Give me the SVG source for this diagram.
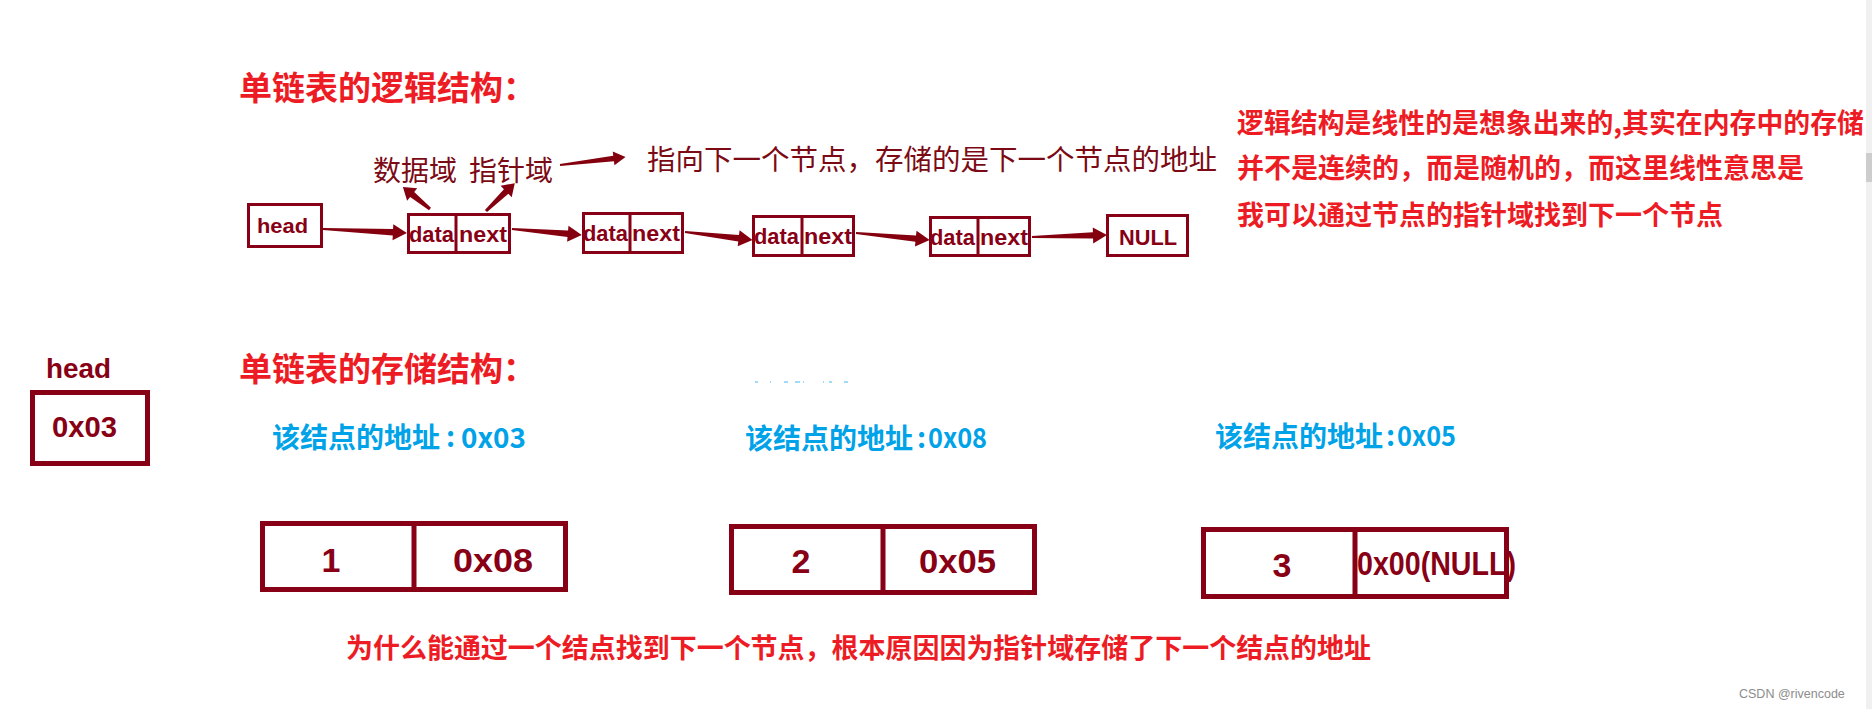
<svg xmlns="http://www.w3.org/2000/svg" width="1872" height="709" viewBox="0 0 1872 709">
<style>
.red{font-family:"Noto Sans CJK SC","Liberation Sans",sans-serif;font-weight:bold;fill:#ed1c24}
.blue{font-family:"Noto Sans CJK SC","Liberation Sans",sans-serif;font-weight:bold;fill:#00a2e8}
.lbl{font-family:"Noto Sans CJK SC","Liberation Sans",sans-serif;font-weight:normal;fill:#7b0a14}
.lat{font-family:"Liberation Sans",Arial,sans-serif;font-weight:bold;fill:#880015}
.b1{fill:none;stroke:#880015;stroke-width:3}
.b2{fill:none;stroke:#880015;stroke-width:5}
.arr{fill:#84000f}
</style>
<rect x="0" y="0" width="1872" height="709" fill="#ffffff"/>
<rect x="1866" y="0" width="6" height="709" fill="#f0f0f0"/>
<rect x="1866" y="153" width="6" height="29" fill="#cdcdcd"/>

<text class="red" x="239" y="100" font-size="33">单链表的逻辑结构：</text>
<text class="red" x="239" y="381" font-size="33">单链表的存储结构：</text>

<g id="notes">
<text class="red" x="1237" y="133" font-size="27" textLength="627" lengthAdjust="spacingAndGlyphs">逻辑结构是线性的是想象出来的,其实在内存中的存储</text>
<text class="red" x="1237" y="178" font-size="27">并不是连续的，而是随机的，而这里线性意思是</text>
<text class="red" x="1237" y="225" font-size="27">我可以通过节点的指针域找到下一个节点</text>
<text class="red" x="346" y="658" font-size="27" textLength="1025" lengthAdjust="spacingAndGlyphs">为什么能通过一个结点找到下一个节点，根本原因因为指针域存储了下一个结点的地址</text>
</g>

<g id="labels">
<text class="lbl" x="373" y="181" font-size="28">数据域</text>
<text class="lbl" x="469" y="181" font-size="28">指针域</text>
<text class="lbl" x="647" y="170" font-size="28" textLength="570" lengthAdjust="spacingAndGlyphs">指向下一个节点，存储的是下一个节点的地址</text>
</g>

<g id="head1">
<rect class="b1" x="248.5" y="204.5" width="73" height="42"/>
<text class="lat" x="257" y="233" font-size="21" textLength="51" lengthAdjust="spacingAndGlyphs">head</text>
</g>
<g id="node1">
<rect class="b1" x="408.5" y="214.5" width="101" height="38"/>
<line class="b1" x1="456" y1="214.5" x2="456" y2="252.5"/>
<text class="lat" x="409" y="242" font-size="22" textLength="45" lengthAdjust="spacingAndGlyphs">data</text>
<text class="lat" x="459" y="242" font-size="22" textLength="48" lengthAdjust="spacingAndGlyphs">next</text>
</g>
<g id="node2">
<rect class="b1" x="583.5" y="213.5" width="99" height="39"/>
<line class="b1" x1="630" y1="213.5" x2="630" y2="252.5"/>
<text class="lat" x="583" y="241" font-size="22" textLength="45" lengthAdjust="spacingAndGlyphs">data</text>
<text class="lat" x="632" y="241" font-size="22" textLength="48" lengthAdjust="spacingAndGlyphs">next</text>
</g>
<g id="node3">
<rect class="b1" x="753.5" y="216.5" width="100" height="39"/>
<line class="b1" x1="802" y1="216.5" x2="802" y2="255.5"/>
<text class="lat" x="754" y="244" font-size="22" textLength="45" lengthAdjust="spacingAndGlyphs">data</text>
<text class="lat" x="804" y="244" font-size="22" textLength="48" lengthAdjust="spacingAndGlyphs">next</text>
</g>
<g id="node4">
<rect class="b1" x="930.5" y="217.5" width="99" height="38"/>
<line class="b1" x1="978" y1="217.5" x2="978" y2="255.5"/>
<text class="lat" x="930" y="245" font-size="22" textLength="45" lengthAdjust="spacingAndGlyphs">data</text>
<text class="lat" x="980" y="245" font-size="22" textLength="48" lengthAdjust="spacingAndGlyphs">next</text>
</g>
<g id="null1">
<rect class="b1" x="1107.5" y="215.5" width="80" height="40"/>
<text class="lat" x="1119" y="245" font-size="22" textLength="58" lengthAdjust="spacingAndGlyphs">NULL</text>
</g>

<g id="connectors">
<polygon class="arr" transform="translate(323,229) rotate(2.7)" points="0,-0.9 70,-3.2 70,-8 84,0 70,8 70,3.2 0,0.9"/>
<polygon class="arr" transform="translate(512,229) rotate(4.9)" points="0,-0.9 56,-3.2 56,-8 70,0 56,8 56,3.2 0,0.9"/>
<polygon class="arr" transform="translate(685,232) rotate(6.7)" points="0,-0.9 54,-3.2 54,-8 68,0 54,8 54,3.2 0,0.9"/>
<polygon class="arr" transform="translate(856,233) rotate(5.4)" points="0,-0.9 60,-3.2 60,-8 74,0 60,8 60,3.2 0,0.9"/>
<polygon class="arr" transform="translate(1032,237) rotate(-1.5)" points="0,-0.9 61,-3.2 61,-8 75,0 61,8 61,3.2 0,0.9"/>
<polygon class="arr" transform="translate(560,165) rotate(-7)" points="0,-0.9 54,-2.8 54,-7 66,0 54,7 54,2.8 0,0.9"/>
<polygon class="arr" transform="translate(430,209) rotate(-140.8)" points="0,-1.5 23,-3.2 23,-8 35,0 23,8 23,3.2 0,1.5"/>
<polygon class="arr" transform="translate(486,211) rotate(-44)" points="0,-1.5 28,-3.2 28,-8 40,0 28,8 28,3.2 0,1.5"/>
</g>

<g id="headptr">
<text class="lat" x="46" y="378" font-size="27" textLength="65" lengthAdjust="spacingAndGlyphs">head</text>
<rect class="b2" x="32.5" y="392.5" width="115" height="71"/>
<text class="lat" x="52" y="437" font-size="30" textLength="65" lengthAdjust="spacingAndGlyphs">0x03</text>
</g>

<g id="addr1">
<text class="blue" x="272" y="448" font-size="28">该结点的地址</text>
<text class="blue" x="446" y="447" font-size="28">:</text>
<text class="blue" x="461" y="448" font-size="28" textLength="65" lengthAdjust="spacingAndGlyphs">0x03</text>
</g>
<g id="addr2">
<text class="blue" x="745" y="449" font-size="28">该结点的地址</text>
<text class="blue" x="917" y="448" font-size="28">:</text>
<text class="blue" x="928" y="448" font-size="28" textLength="59" lengthAdjust="spacingAndGlyphs">0x08</text>
</g>
<g id="addr3">
<text class="blue" x="1215" y="447" font-size="28">该结点的地址</text>
<text class="blue" x="1386" y="446" font-size="28">:</text>
<text class="blue" x="1397" y="446" font-size="28" textLength="59" lengthAdjust="spacingAndGlyphs">0x05</text>
</g>

<g id="mem1">
<rect class="b2" x="262.5" y="523.5" width="303" height="66"/>
<line class="b2" x1="414" y1="523.5" x2="414" y2="589.5"/>
<text class="lat" x="331" y="572" font-size="34" text-anchor="middle">1</text>
<text class="lat" x="453" y="572" font-size="34" textLength="80" lengthAdjust="spacingAndGlyphs">0x08</text>
</g>
<g id="mem2">
<rect class="b2" x="731.5" y="526.5" width="303" height="66"/>
<line class="b2" x1="883" y1="526.5" x2="883" y2="592.5"/>
<text class="lat" x="801" y="573" font-size="34" text-anchor="middle">2</text>
<text class="lat" x="919" y="573" font-size="34" textLength="77" lengthAdjust="spacingAndGlyphs">0x05</text>
</g>
<g id="mem3">
<rect class="b2" x="1203.5" y="529.5" width="303" height="67"/>
<line class="b2" x1="1355" y1="529.5" x2="1355" y2="596.5"/>
<text class="lat" x="1282" y="577" font-size="34" text-anchor="middle">3</text>
<text class="lat" x="1357" y="575" font-size="33" textLength="159" lengthAdjust="spacingAndGlyphs">0x00(NULL)</text>
</g>

<g id="specks" fill="#9fdcf7">
<rect x="755" y="381" width="3" height="2"/>
<rect x="770" y="381" width="1" height="2"/>
<rect x="784" y="381" width="4" height="2"/>
<rect x="795" y="381" width="5" height="2"/>
<rect x="803" y="381" width="1" height="2"/>
<rect x="823" y="381" width="1" height="2"/>
<rect x="829" y="381" width="3" height="2"/>
<rect x="844" y="381" width="4" height="2"/>
</g>

<text x="1739" y="698" font-family="Liberation Sans, Arial, sans-serif" font-size="12.5" fill="#8c8c8c">CSDN @rivencode</text>
</svg>
